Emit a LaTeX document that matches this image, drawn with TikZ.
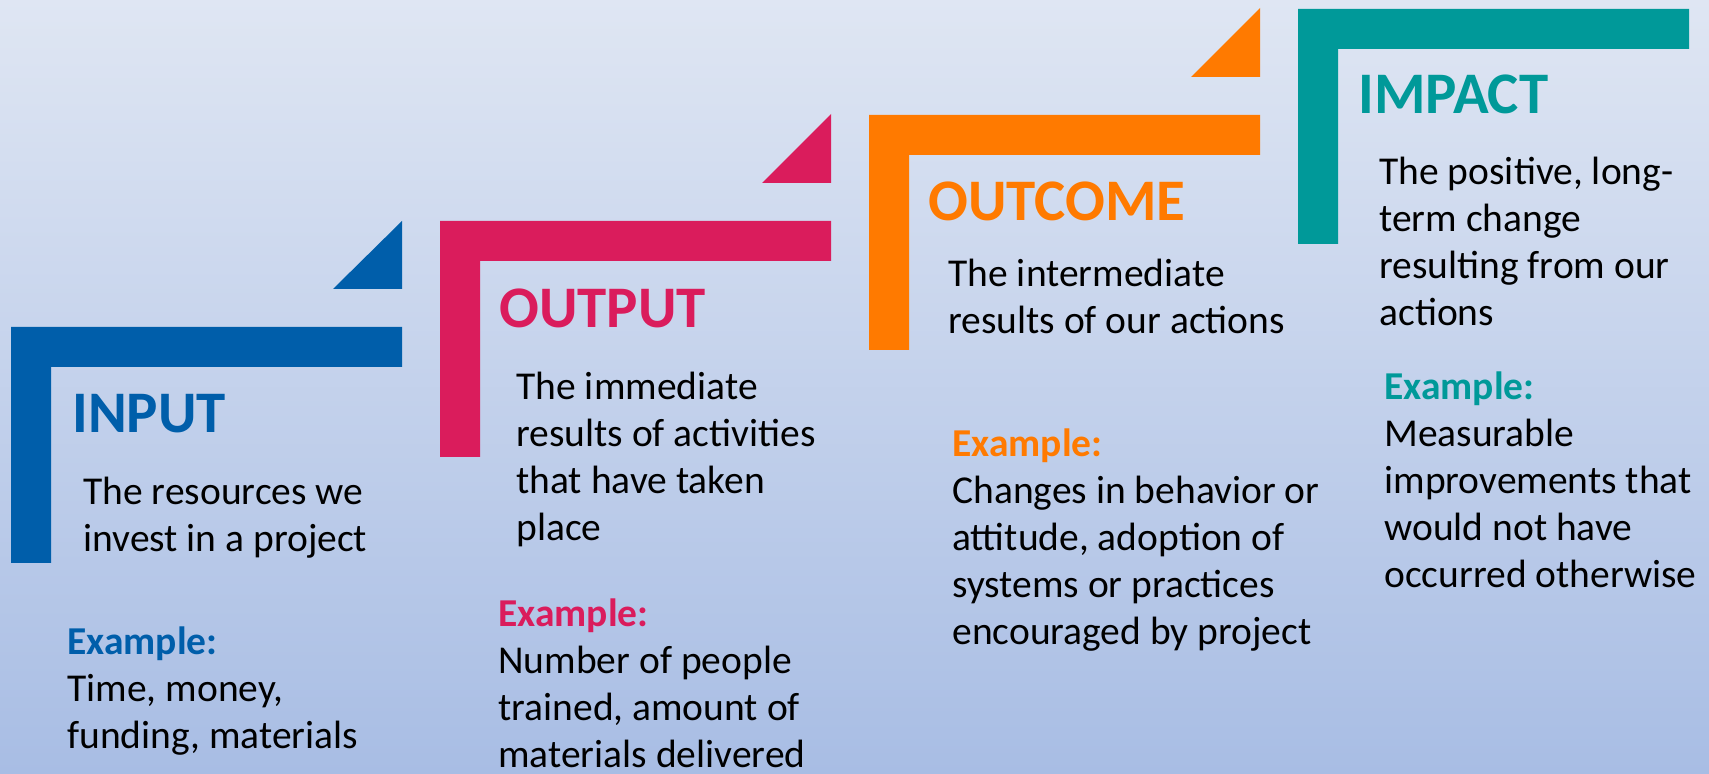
\documentclass[tikz,border=0pt]{standalone}
\usepackage{fontspec}
\setmainfont{Carlito}
\usetikzlibrary{positioning}
\definecolor{inblue}{RGB}{0,94,170}
\definecolor{outred}{RGB}{218,28,92}
\definecolor{outcorange}{RGB}{255,122,0}
\definecolor{impteal}{RGB}{0,153,153}
\definecolor{bgtop}{RGB}{223,230,243}
\definecolor{bgbottom}{RGB}{168,189,228}
\tikzset{
  bar/.style={fill=#1, draw=none},
  headtext/.style={
    anchor=base west,
    inner sep=0pt,
    font=\fontsize{29.45}{35}\selectfont\bfseries,
    text=#1},
  bodytext/.style={
    anchor=base west,
    inner sep=0pt,
    font=\fontsize{19.75}{23.5}\selectfont},
}
% lines of one text, baseline on the first line
\def\lines#1{\begin{tabular}[t]{@{}l@{}}#1\end{tabular}}
\def\exlabel#1{\textcolor{#1}{\textbf{Example:}}}

\begin{document}
\begin{tikzpicture}[x=0.5pt, y=-0.5pt]
  % background
  \shade[top color=bgtop, bottom color=bgbottom] (0,0) rectangle (1709,774);
  \useasboundingbox (0,0) rectangle (1709,774);

  %% INPUT
  \fill[bar=inblue] (11,327) -- (402,327) -- (402,367) -- (51,367)
    -- (51,563) -- (11,563) -- cycle;
  \fill[bar=inblue] (333,289) -- (402,221) -- (402,289) -- cycle;
  \node[headtext=inblue] (inhead) at (72,433) {INPUT};
  \node[bodytext] (intext) at (83,505) {\lines{The resources we\\invest in a project}};
  \node[bodytext] (inex) at (67,655)
    {\lines{\exlabel{inblue}\\Time, money,\\funding, materials}};

  %% OUTPUT
  \fill[bar=outred] (440,221) -- (831,221) -- (831,261) -- (480,261)
    -- (480,457) -- (440,457) -- cycle;
  \fill[bar=outred] (762,183) -- (831,114) -- (831,183) -- cycle;
  \node[headtext=outred] (outhead) at (499,328) {OUTPUT};
  \node[bodytext] (outtext) at (516,400)
    {\lines{The immediate\\results of activities\\that have taken\\place}};
  \node[bodytext] (outex) at (498,627)
    {\lines{\exlabel{outred}\\Number of people\\trained, amount of\\materials delivered}};

  %% OUTCOME
  \fill[bar=outcorange] (869,115) -- (1260,115) -- (1260,155) -- (909,155)
    -- (909,350) -- (869,350) -- cycle;
  \fill[bar=outcorange] (1191,77) -- (1260,8) -- (1260,77) -- cycle;
  \node[headtext=outcorange] (outchead) at (928,221) {OUTCOME};
  \node[bodytext] (outctext) at (948,287)
    {\lines{The intermediate\\results of our actions}};
  \node[bodytext] (outcex) at (952,457)
    {\lines{\exlabel{outcorange}\\Changes in behavior or\\attitude, adoption of\\systems or practices\\encouraged by project}};

  %% IMPACT
  \fill[bar=impteal] (1298,9) -- (1689,9) -- (1689,49) -- (1338,49)
    -- (1338,244) -- (1298,244) -- cycle;
  \node[headtext=impteal] (imphead) at (1358,114) {IMPACT};
  \node[bodytext] (imptext) at (1379,185)
    {\lines{The positive, long-\\term change\\resulting from our\\actions}};
  \node[bodytext] (impex) at (1384,400)
    {\lines{\exlabel{impteal}\\Measurable\\improvements that\\would not have\\occurred otherwise}};
\end{tikzpicture}
\end{document}
